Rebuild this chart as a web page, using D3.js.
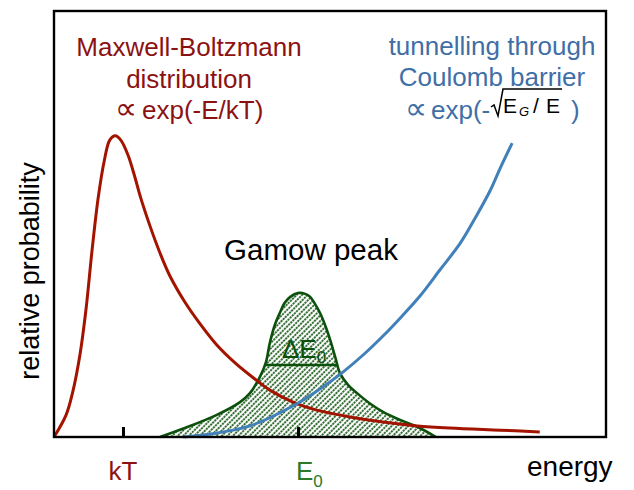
<!DOCTYPE html>
<html>
<head>
<meta charset="utf-8">
<script src="https://cdn.jsdelivr.net/npm/d3@7"></script>
<style>
  html, body { margin: 0; padding: 0; background: #fff; }
  svg { display: block; font-family: "Liberation Sans", Arial, sans-serif; }
</style>
</head>
<body>
<svg id="chart" width="634" height="490"></svg>
<script>
// Energy axis runs 0..100 (arbitrary units), probability axis 0..100.
// Maxwell-Boltzmann distribution
const mbEnergy = [0, 2.2, 3.4, 4.7, 5.8, 6.9, 8.0, 9.1, 10.1, 11.1, 12.1, 13.4, 14.7, 15.6, 17.4, 19.2, 21.0, 23.7, 26.5, 29.5, 32.8, 36.1, 39.1, 43.3, 47.6, 53.6, 59.6, 65.8, 71.7, 80.8, 88.0];
const mbProb   = [0, 5.2, 10.6, 19.3, 30.0, 43.9, 56.1, 64.8, 69.7, 70.7, 69.7, 66.2, 60.8, 56.6, 49.5, 43.2, 37.8, 31.7, 26.5, 21.6, 17.4, 13.9, 11.0, 8.2, 6.3, 4.7, 3.5, 2.6, 2.1, 1.6, 1.2];

// Tunnelling probability through the Coulomb barrier
const tunEnergy = [23.4, 28.3, 35.5, 44.0, 48.2, 52.4, 56.3, 59.6, 62.7, 66.3, 69.9, 73.6, 76.3, 79.0, 80.8, 83.0];
const tunProb   = [0, 0.7, 2.6, 7.8, 11.3, 15.3, 19.6, 23.7, 27.9, 33.1, 39.2, 45.5, 51.4, 57.8, 63.0, 69.0];

// Gamow peak (product of the two)
const gamowEnergy = [19.2, 23.7, 29.5, 33.7, 35.5, 37.3, 38.4, 39.1, 40.0, 40.9, 41.8, 42.8, 44.2, 45.5, 46.4, 47.3, 48.2, 49.3, 50.2, 51.0, 51.8, 53.3, 54.9, 57.3, 59.6, 62.7, 65.8, 69.2];
const gamowProb   = [0, 2.1, 5.2, 8.2, 10.3, 14.1, 17.6, 22.1, 26.3, 29.1, 31.5, 32.9, 33.8, 33.6, 32.9, 31.2, 29.1, 25.6, 22.1, 18.5, 15.0, 12.2, 10.3, 7.8, 5.9, 4.0, 2.4, 0];

// Marked energies on the axis
const tickEnergies = [12.5, 44.2];

const mbLabel = ["Maxwell-Boltzmann", "distribution", "exp(-E/kT)"];
const tunLabel = ["tunnelling through", "Coulomb barrier", "exp(-", ")"];

const RED = "#a31400", RED_TXT = "#8c1212";
const BLUE = "#4180b8", BLUE_TXT = "#3f6fa6";
const GREEN = "#0b500b", GREEN_TXT = "#2a7a2a";

const svg = d3.select("#chart");
const plotL = 54, plotR = 606, plotT = 11, plotB = 437;

const x = d3.scaleLinear().domain([0, 100]).range([plotL, plotR]);
const y = d3.scaleLinear().domain([0, 100]).range([plotB, plotT]);

const zip = (xs, ys) => xs.map((v, i) => [v, ys[i]]);
const mb = zip(mbEnergy, mbProb);
const tun = zip(tunEnergy, tunProb);
const gam = zip(gamowEnergy, gamowProb);

// Hatch pattern for the Gamow peak
const defs = svg.append("defs");
const pat = defs.append("pattern")
  .attr("id", "hatch")
  .attr("patternUnits", "userSpaceOnUse")
  .attr("width", 3.9).attr("height", 9)
  .attr("patternTransform", "rotate(45)");
pat.append("line")
  .attr("x1", 1).attr("y1", 0).attr("x2", 1).attr("y2", 9)
  .attr("stroke", GREEN).attr("stroke-width", 1.6)
  .attr("stroke-dasharray", "2.2,0.8");

const line = d3.line().x(d => x(d[0])).y(d => y(d[1])).curve(d3.curveCatmullRom.alpha(0.5));
const area = d3.area().x(d => x(d[0])).y0(y(0)).y1(d => y(d[1])).curve(d3.curveCatmullRom.alpha(0.5));

// Gamow peak fill + outline
svg.append("path").datum(gam).attr("d", area).attr("fill", "url(#hatch)");
svg.append("path").datum(gam).attr("d", line)
  .attr("fill", "none").attr("stroke", GREEN).attr("stroke-width", 2.6);

// Full width at half maximum
const peak = d3.max(gamowProb);
const half = peak / 2;
function crossing(pts) {
  for (let i = 1; i < pts.length; i++) {
    const a = pts[i - 1], b = pts[i];
    if ((a[1] - half) * (b[1] - half) <= 0 && a[1] !== b[1]) {
      return a[0] + (half - a[1]) * (b[0] - a[0]) / (b[1] - a[1]);
    }
  }
}
const iPeak = gamowProb.indexOf(peak);
const eLo = crossing(gam.slice(0, iPeak + 1));
const eHi = crossing(gam.slice(iPeak));
svg.append("line")
  .attr("x1", x(eLo)).attr("x2", x(eHi))
  .attr("y1", y(half)).attr("y2", y(half))
  .attr("stroke", GREEN).attr("stroke-width", 2.6);

const dE = svg.append("text")
  .attr("x", x(gamowEnergy[iPeak]) - 16).attr("y", y(half) - 7)
  .attr("font-size", 26).attr("fill", GREEN);
dE.append("tspan").text("ΔE");
dE.append("tspan").attr("font-size", 17).attr("dy", 5).text("0");

// Maxwell-Boltzmann and tunnelling curves
svg.append("path").datum(mb).attr("d", line)
  .attr("fill", "none").attr("stroke", RED).attr("stroke-width", 3);
svg.append("path").datum(tun).attr("d", line)
  .attr("fill", "none").attr("stroke", BLUE).attr("stroke-width", 3);

// Frame
svg.append("rect")
  .attr("x", plotL).attr("y", plotT)
  .attr("width", plotR - plotL).attr("height", plotB - plotT)
  .attr("fill", "none").attr("stroke", "#000").attr("stroke-width", 2.4);

// Ticks on the energy axis
const axis = d3.axisBottom(x).tickValues(tickEnergies).tickSize(-10).tickFormat("");
const gAxis = svg.append("g").attr("transform", `translate(0,${plotB})`).call(axis);
gAxis.select(".domain").remove();
gAxis.selectAll(".tick line").attr("stroke", "#000").attr("stroke-width", 3);

// Tick labels
svg.append("text").attr("x", x(tickEnergies[0])).attr("y", 480)
  .attr("text-anchor", "middle").attr("font-size", 26).attr("fill", RED_TXT).text("kT");
const e0 = svg.append("text").attr("x", x(tickEnergies[1]) - 2).attr("y", 480)
  .attr("font-size", 26).attr("fill", GREEN_TXT);
e0.append("tspan").text("E");
e0.append("tspan").attr("font-size", 17).attr("dy", 7).text("0");

// Axis titles
svg.append("text").attr("x", 527).attr("y", 476)
  .attr("font-size", 28).attr("fill", "#000").text("energy");
svg.append("text")
  .attr("transform", "translate(39,271) rotate(-90)")
  .attr("text-anchor", "middle").attr("font-size", 27).attr("fill", "#000")
  .text("relative probability");

// Maxwell-Boltzmann annotation
svg.append("text").attr("x", 189).attr("y", 56).attr("text-anchor", "middle")
  .attr("font-size", 26).attr("fill", RED_TXT).text(mbLabel[0]);
svg.append("text").attr("x", 189).attr("y", 88).attr("text-anchor", "middle")
  .attr("font-size", 26).attr("fill", RED_TXT).text(mbLabel[1]);
svg.append("text").attr("x", 115).attr("y", 119)
  .attr("font-size", 31).attr("fill", RED_TXT).text("∝");
svg.append("text").attr("x", 142).attr("y", 119)
  .attr("font-size", 26).attr("fill", RED_TXT).text(mbLabel[2]);

// Tunnelling annotation
svg.append("text").attr("x", 492).attr("y", 55).attr("text-anchor", "middle")
  .attr("font-size", 26).attr("fill", BLUE_TXT).text(tunLabel[0]);
svg.append("text").attr("x", 492).attr("y", 86).attr("text-anchor", "middle")
  .attr("font-size", 26).attr("fill", BLUE_TXT).text(tunLabel[1]);
svg.append("text").attr("x", 405).attr("y", 119)
  .attr("font-size", 31).attr("fill", BLUE_TXT).text("∝");
svg.append("text").attr("x", 431).attr("y", 119)
  .attr("font-size", 26).attr("fill", BLUE_TXT).text(tunLabel[2]);
svg.append("path")
  .attr("d", "M491,107 L494,105 L498,116 L503,89 L562,89")
  .attr("fill", "none").attr("stroke", "#000").attr("stroke-width", 1.5);
svg.append("text").attr("x", 503).attr("y", 113)
  .attr("font-size", 21).attr("fill", "#000").text("E");
svg.append("text").attr("x", 519).attr("y", 116)
  .attr("font-size", 13).attr("font-style", "italic").attr("fill", "#000").text("G");
svg.append("text").attr("x", 533).attr("y", 113)
  .attr("font-size", 21).attr("fill", "#000").text("/");
svg.append("text").attr("x", 546).attr("y", 113)
  .attr("font-size", 21).attr("fill", "#000").text("E");
svg.append("text").attr("x", 571).attr("y", 119)
  .attr("font-size", 26).attr("fill", BLUE_TXT).text(tunLabel[3]);

// Gamow peak title
svg.append("text").attr("x", 311).attr("y", 260).attr("text-anchor", "middle")
  .attr("font-size", 29.5).attr("fill", "#000").text("Gamow peak");
</script>
</body>
</html>
